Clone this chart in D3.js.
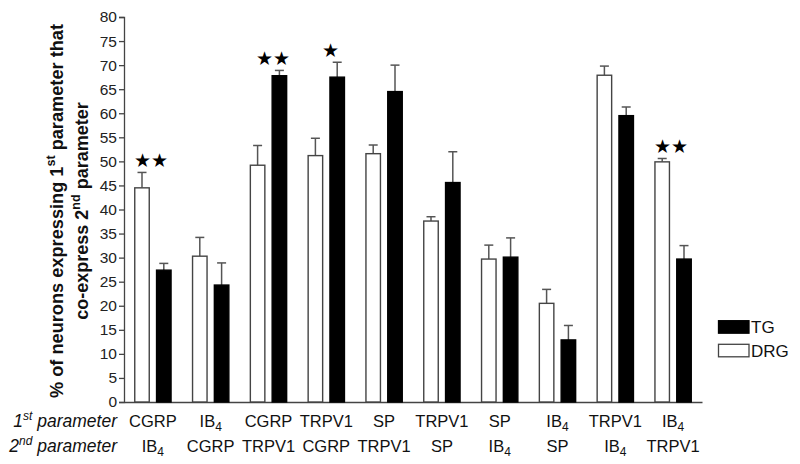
<!DOCTYPE html>
<html><head><meta charset="utf-8">
<script src="https://cdn.jsdelivr.net/npm/d3@7"></script>
<style>body{margin:0;background:#fff}svg{display:block}text{font-family:"Liberation Sans",Arial,sans-serif}</style>
</head><body><svg id="c" width="800" height="464"></svg>
<script>
const firstParam = ["CGRP","IB4","CGRP","TRPV1","SP","TRPV1","SP","IB4","TRPV1","IB4"];
const secondParam = ["IB4","CGRP","TRPV1","CGRP","TRPV1","SP","IB4","SP","IB4","TRPV1"];
const series = ["DRG","TG"];
const drgValues = [44.5,30.3,49.2,51.2,51.6,37.6,29.7,20.5,67.9,49.9];
const drgErrors = [3.2,3.9,4.1,3.6,1.8,0.9,2.9,2.9,1.9,0.7];
const tgValues = [27.4,24.3,67.8,67.5,64.5,45.6,30.1,12.9,59.5,29.7];
const tgErrors = [1.4,4.6,1.1,3.1,5.5,6.4,4.0,3.0,1.8,2.8];
const stars = [{group:0,label:"★★"},{group:2,label:"★★"},{group:3,label:"★"},{group:9,label:"★★"}];
const yTicks = d3.range(0,81,5);

const svg = d3.select("#c");
const ink = "#444";
const x = d3.scaleBand().domain(d3.range(firstParam.length)).range([124,702]).padding(0);
const xs = d3.scaleBand().domain(series).range([0,x.bandwidth()]).paddingInner(0.335).paddingOuter(0.493);
const y = d3.scaleLinear().domain([0,80]).range([402,17]);

// y axis
const ya = svg.append("g").attr("transform","translate(124,0)")
  .call(d3.axisLeft(y).tickValues(yTicks).tickSize(5).tickPadding(2));
ya.select(".domain").attr("stroke",ink).attr("stroke-width",1.3);
ya.selectAll(".tick line").attr("stroke",ink).attr("stroke-width",1.3);
ya.selectAll(".tick text").attr("font-size",15.5).attr("fill","#222").attr("font-family","Liberation Sans, Arial, sans-serif");

// x axis baseline
const xa = svg.append("g").attr("transform","translate(0,402)")
  .call(d3.axisBottom(x).tickSize(0).tickFormat(""));
xa.select(".domain").attr("stroke",ink).attr("stroke-width",1.3);

const rows = d3.range(firstParam.length).map(i => ({
  i, DRG: drgValues[i], DRGe: drgErrors[i], TG: tgValues[i], TGe: tgErrors[i]
}));

const g = svg.append("g");
rows.forEach(r => {
  series.forEach(s => {
    const x0 = x(r.i) + xs(s), w = xs.bandwidth();
    const v = r[s], e = r[s+"e"];
    const cx = x0 + w/2;
    g.append("line").attr("x1",cx).attr("x2",cx).attr("y1",y(v)).attr("y2",y(v+e))
      .attr("stroke","#555").attr("stroke-width",1.5);
    g.append("line").attr("x1",cx-4.5).attr("x2",cx+4.5).attr("y1",y(v+e)).attr("y2",y(v+e))
      .attr("stroke","#555").attr("stroke-width",1.5);
    g.append("rect").attr("x",x0).attr("y",y(v)).attr("width",w).attr("height",y(0)-y(v))
      .attr("fill", s==="TG" ? "#000" : "#fff")
      .attr("stroke", s==="TG" ? "#000" : ink).attr("stroke-width",1.4);
  });
});

// stars
stars.forEach(st => {
  const r = rows[st.group];
  const top = Math.max(r.DRG + r.DRGe, r.TG + r.TGe);
  const tgHigher = (r.TG + r.TGe) > (r.DRG + r.DRGe);
  const cx = x(st.group) + x.bandwidth()/2 + (tgHigher ? 4 : -2);
  svg.append("text").attr("x",cx).attr("y",y(top)-5.5).attr("text-anchor","middle")
    .attr("font-size",19)
    .attr("font-family","DejaVu Sans, sans-serif").text(st.label);
});

// category labels
function label(txt, xc, yb) {
  const t = svg.append("text").attr("x",xc).attr("y",yb).attr("text-anchor","middle")
    .attr("font-size",16.5).attr("fill","#111");
  const m = txt.match(/^(IB)(4)$/);
  if (m) {
    t.append("tspan").text(m[1]);
    t.append("tspan").attr("font-size",12).attr("dy",4).text(m[2]);
  } else t.text(txt);
}
rows.forEach(r => {
  const xc = x(r.i) + x.bandwidth()/2;
  label(firstParam[r.i], xc, 427);
  label(secondParam[r.i], xc, 452);
});

// row headers
function header(num, sup, yb) {
  const t = svg.append("text").attr("x",117).attr("y",yb).attr("text-anchor","end")
    .attr("font-size",17.5).attr("font-style","italic").attr("fill","#111");
  t.append("tspan").text(num);
  t.append("tspan").attr("font-size",12).attr("dy",-7).text(sup);
  t.append("tspan").attr("dy",7).text(" parameter");
}
header("1","st",427);
header("2","nd",452);

// y title
const yt = svg.append("g").attr("transform","translate(0,211) rotate(-90)");
const l1 = yt.append("text").attr("x",0).attr("y",63).attr("text-anchor","middle")
  .attr("font-size",18.2).attr("font-weight","bold").attr("fill","#111");
l1.append("tspan").text("% of neurons expressing 1");
l1.append("tspan").attr("font-size",12.5).attr("dy",-8).text("st");
l1.append("tspan").attr("dy",8).text(" parameter that");
const l2 = yt.append("text").attr("x",0).attr("y",88).attr("text-anchor","middle")
  .attr("font-size",18).attr("font-weight","bold").attr("fill","#111");
l2.append("tspan").text("co-express 2");
l2.append("tspan").attr("font-size",12.5).attr("dy",-8).text("nd");
l2.append("tspan").attr("dy",8).text(" parameter");

// legend
const leg = svg.append("g");
const legItems = [{name:"TG", fill:"#000", stroke:"#000"},{name:"DRG", fill:"#fff", stroke:ink}];
legItems.forEach((d,i) => {
  const yy = 320.7 + i*23.6;
  leg.append("rect").attr("x",718.5).attr("y",yy).attr("width",30.5).attr("height",12.5)
    .attr("fill",d.fill).attr("stroke",d.stroke).attr("stroke-width",1.3);
  leg.append("text").attr("x",751).attr("y",yy+12.5).attr("font-size",17).attr("fill","#111").text(d.name);
});
</script></body></html>
